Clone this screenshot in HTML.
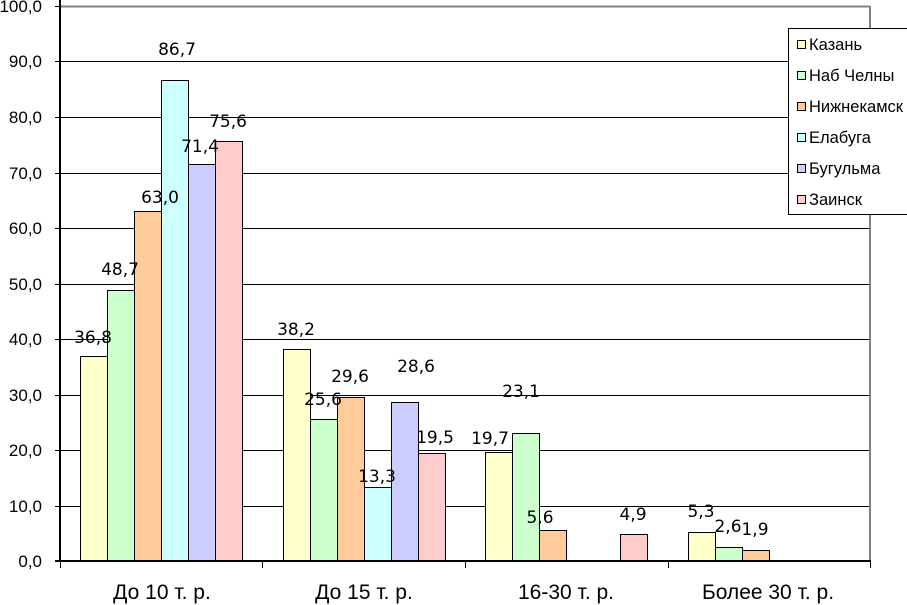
<!DOCTYPE html>
<html><head><meta charset="utf-8"><style>
html,body{margin:0;padding:0;background:#fff;width:907px;height:605px;overflow:hidden}
svg{display:block}
</style></head><body>
<svg width="907" height="605" xmlns="http://www.w3.org/2000/svg">
<g stroke="#000" stroke-width="1">
<line x1="55" y1="506.5" x2="870" y2="506.5"/>
<line x1="55" y1="450.5" x2="870" y2="450.5"/>
<line x1="55" y1="395.5" x2="870" y2="395.5"/>
<line x1="55" y1="339.5" x2="870" y2="339.5"/>
<line x1="55" y1="284.5" x2="870" y2="284.5"/>
<line x1="55" y1="228.5" x2="870" y2="228.5"/>
<line x1="55" y1="173.5" x2="870" y2="173.5"/>
<line x1="55" y1="117.5" x2="870" y2="117.5"/>
<line x1="55" y1="61.5" x2="870" y2="61.5"/>
<line x1="55" y1="6.5" x2="61" y2="6.5"/>
</g>
<line x1="61" y1="6.5" x2="870" y2="6.5" stroke="#808080" stroke-width="2"/>
<line x1="870" y1="6" x2="870" y2="562" stroke="#808080" stroke-width="2"/>
<g stroke="#000" stroke-width="1">
<rect x="80.5" y="356.5" width="27" height="205" fill="#FFFFCC"/>
<rect x="107.5" y="290.5" width="27" height="271" fill="#CCFFCC"/>
<rect x="134.5" y="211.5" width="27" height="350" fill="#FFCC99"/>
<rect x="161.5" y="80.5" width="27" height="481" fill="#CCFFFF"/>
<rect x="188.5" y="164.5" width="27" height="397" fill="#CCCCFF"/>
<rect x="215.5" y="141.5" width="27" height="420" fill="#FFCCCC"/>

<rect x="283.5" y="349.5" width="27" height="212" fill="#FFFFCC"/>
<rect x="310.5" y="419.5" width="27" height="142" fill="#CCFFCC"/>
<rect x="337.5" y="397.5" width="27" height="164" fill="#FFCC99"/>
<rect x="364.5" y="487.5" width="27" height="74" fill="#CCFFFF"/>
<rect x="391.5" y="402.5" width="27" height="159" fill="#CCCCFF"/>
<rect x="418.5" y="453.5" width="27" height="108" fill="#FFCCCC"/>

<rect x="485.5" y="452.5" width="27" height="109" fill="#FFFFCC"/>
<rect x="512.5" y="433.5" width="27" height="128" fill="#CCFFCC"/>
<rect x="539.5" y="530.5" width="27" height="31" fill="#FFCC99"/>
<rect x="620.5" y="534.5" width="27" height="27" fill="#FFCCCC"/>

<rect x="688.5" y="532.5" width="27" height="29" fill="#FFFFCC"/>
<rect x="715.5" y="547.5" width="27" height="14" fill="#CCFFCC"/>
<rect x="742.5" y="550.5" width="27" height="11" fill="#FFCC99"/>
</g>
<g stroke="#000" stroke-width="2">
<line x1="60" y1="0" x2="60" y2="562"/>
<line x1="55" y1="561" x2="871" y2="561"/>
</g>
<g stroke="#000" stroke-width="1">
<line x1="60.5" y1="561" x2="60.5" y2="568"/>
<line x1="262.5" y1="561" x2="262.5" y2="568"/>
<line x1="465.5" y1="561" x2="465.5" y2="568"/>
<line x1="668.5" y1="561" x2="668.5" y2="568"/>
<line x1="870.5" y1="561" x2="870.5" y2="568"/>
</g>
<g font-family="Liberation Sans, sans-serif" font-size="17" fill="#000" text-anchor="end">
<text x="42" y="567">0,0</text><text x="42" y="512">10,0</text><text x="42" y="456">20,0</text>
<text x="42" y="401">30,0</text><text x="42" y="345">40,0</text><text x="42" y="290">50,0</text>
<text x="42" y="234">60,0</text><text x="42" y="179">70,0</text><text x="42" y="123">80,0</text>
<text x="42" y="67">90,0</text><text x="42" y="12">100,0</text>
</g>
<g font-family="DejaVu Sans, sans-serif" font-size="17" fill="#000" text-anchor="middle">
<text x="93" y="343">36,8</text><text x="120" y="275">48,7</text><text x="160" y="203">63,0</text>
<text x="177" y="55">86,7</text><text x="200" y="152">71,4</text><text x="228" y="127">75,6</text>
<text x="296" y="335">38,2</text><text x="323" y="405">25,6</text><text x="350" y="382">29,6</text>
<text x="377" y="482">13,3</text><text x="416" y="372">28,6</text><text x="435" y="443">19,5</text>
<text x="490" y="444">19,7</text><text x="521" y="397">23,1</text><text x="540" y="523">5,6</text>
<text x="633" y="520">4,9</text><text x="701" y="517">5,3</text><text x="728" y="532">2,6</text>
<text x="755" y="535">1,9</text>
</g>
<g font-family="Liberation Sans, sans-serif" font-size="21" fill="#000" text-anchor="middle">
<text x="162" y="599">До 10 т. р.</text><text x="364" y="599">До 15 т. р.</text>
<text x="566" y="599">16-30 т. р.</text><text x="768" y="599">Более 30 т. р.</text>
</g>
<rect x="788.5" y="28.5" width="125" height="186" fill="#fff" stroke="#000"/>
<g stroke="#000" stroke-width="1">
<rect x="797.5" y="40.5" width="8" height="8" fill="#FFFFCC"/>
<rect x="797.5" y="71.5" width="8" height="8" fill="#CCFFCC"/>
<rect x="797.5" y="102.5" width="8" height="8" fill="#FFCC99"/>
<rect x="797.5" y="133.5" width="8" height="8" fill="#CCFFFF"/>
<rect x="797.5" y="164.5" width="8" height="8" fill="#CCCCFF"/>
<rect x="797.5" y="195.5" width="8" height="8" fill="#FFCCCC"/>
</g>
<g font-family="Liberation Sans, sans-serif" font-size="16.5" fill="#000">
<text x="809" y="50">Казань</text><text x="809" y="81">Наб Челны</text>
<text x="809" y="112">Нижнекамск</text><text x="809" y="143">Елабуга</text>
<text x="809" y="174">Бугульма</text><text x="809" y="205">Заинск</text>
</g>
</svg>
</body></html>
